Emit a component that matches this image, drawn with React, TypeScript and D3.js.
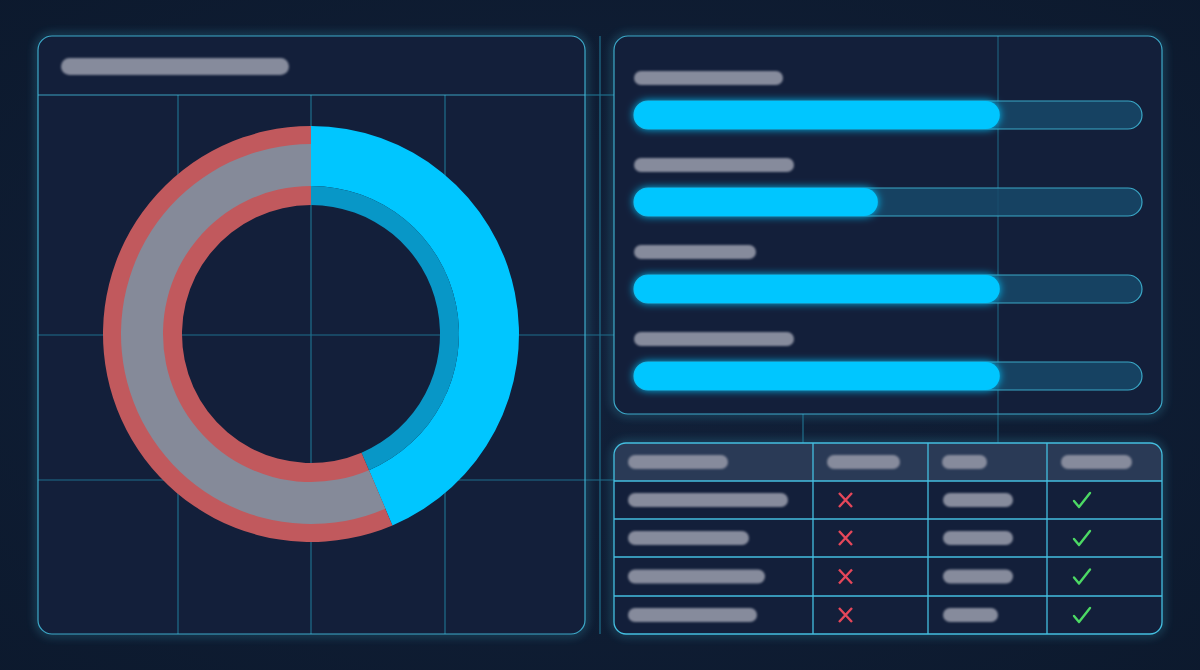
import React from "react";
import * as d3 from "d3";

const W = 1200;
const H = 670;

// Donut: share of the blue segment vs the grey/red segment
const donutLabels = ["Blue", "Grey"];
const donutValues = [43.6, 56.4];

// Progress bars (percent)
const barValues = [72, 48, 72, 72];
const barLabelWidths = [149, 160, 122, 160];

// Table placeholder widths and statuses
const headerPillWidths = [100, 73, 45, 71];
const col1PillWidths = [160, 121, 137, 129];
const col3PillWidths = [70, 70, 70, 55];
const col2Status = [false, false, false, false];
const col4Status = [true, true, true, true];

const PANEL = "#131f3a";
const BORDER = "#44bfe0";
const GRID = "#1f6f8c";
const PILL = "#868b9c";
const CYAN = "#00c6ff";

export default function App() {
  // Donut
  const cx = 311;
  const cy = 334;
  const pie = d3.pie<number>().sort(null).startAngle(0).endAngle(2 * Math.PI);
  const arcsData = pie(donutValues);
  const arcOuterBand = d3.arc<any>().innerRadius(148).outerRadius(208);
  const arcInnerBand = d3.arc<any>().innerRadius(129).outerRadius(148);
  const arcFull = d3.arc<any>().innerRadius(129).outerRadius(208);
  const arcGreyCore = d3.arc<any>().innerRadius(148).outerRadius(190);

  // Bars
  const bx = d3.scaleLinear().domain([0, 100]).range([634, 1142]);
  const barRowY = d3.scalePoint<number>().domain(d3.range(barValues.length)).range([101, 362]);

  // Table
  const colEdges = [614, 813, 928, 1047, 1162];
  const rowEdges = [443, 481, 519, 557, 596, 634];
  const rowCenters = d3.range(rowEdges.length - 1).map((i) => (rowEdges[i] + rowEdges[i + 1]) / 2);

  return (
    <svg width={W} height={H} style={{ position: "fixed", left: 0, top: 0, display: "block" }}>
      <defs>
        <filter id="blur" x="-20%" y="-50%" width="140%" height="200%">
          <feGaussianBlur stdDeviation="1.3" />
        </filter>
        <filter id="glow" x="-10%" y="-60%" width="120%" height="220%">
          <feGaussianBlur stdDeviation="4" result="b" />
          <feMerge>
            <feMergeNode in="b" />
            <feMergeNode in="SourceGraphic" />
          </feMerge>
        </filter>
        <filter id="panelGlow" x="-10%" y="-10%" width="120%" height="120%">
          <feGaussianBlur stdDeviation="5" />
        </filter>
        <radialGradient id="bgGrad" cx="50%" cy="50%" r="75%">
          <stop offset="0%" stopColor="#12213a" />
          <stop offset="100%" stopColor="#0c192d" />
        </radialGradient>
        <clipPath id="tableClip">
          <rect x={614} y={443} width={548} height={191} rx={12} />
        </clipPath>
      </defs>

      <rect x={0} y={0} width={W} height={H} fill="url(#bgGrad)" />

      {/* panel glows */}
      <g filter="url(#panelGlow)" opacity={0.55}>
        <rect x={38} y={36} width={547} height={598} rx={14} fill="none" stroke={BORDER} strokeWidth={3} />
        <rect x={614} y={36} width={548} height={378} rx={14} fill="none" stroke={BORDER} strokeWidth={3} />
        <rect x={614} y={443} width={548} height={191} rx={12} fill="none" stroke={BORDER} strokeWidth={3} />
      </g>

      {/* panels */}
      <rect x={38} y={36} width={547} height={598} rx={14} fill={PANEL} />
      <rect x={614} y={36} width={548} height={378} rx={14} fill={PANEL} />
      <rect x={614} y={443} width={548} height={191} rx={12} fill={PANEL} />

      {/* grid lines */}
      <g stroke={GRID} strokeWidth={1.2}>
        {[178, 311, 445].map((x) => (
          <line key={x} x1={x} x2={x} y1={95} y2={634} />
        ))}
        <line x1={38} x2={614} y1={335} y2={335} />
        <line x1={38} x2={614} y1={480} y2={480} />
        <line x1={600} x2={600} y1={36} y2={634} />
        <line x1={585} x2={614} y1={95} y2={95} />
        <line x1={998} x2={998} y1={36} y2={443} opacity={0.8} />
        <line x1={803} x2={803} y1={414} y2={443} />
      </g>
      <line x1={38} x2={585} y1={95} y2={95} stroke={BORDER} strokeWidth={1.2} opacity={0.8} />

      {/* title pill */}
      <rect x={61} y={58} width={228} height={17} rx={8.5} fill={PILL} filter="url(#blur)" />

      {/* donut */}
      <g transform={`translate(${cx},${cy})`}>
        {arcsData.map((d, i) =>
          i === 0 ? (
            <g key={donutLabels[i]}>
              <path d={arcOuterBand(d) as string} fill={CYAN} />
              <path d={arcInnerBand(d) as string} fill="#0897c7" />
            </g>
          ) : (
            <g key={donutLabels[i]}>
              <path d={arcFull(d) as string} fill="#c1595d" />
              <path d={arcGreyCore(d) as string} fill="#858a99" />
            </g>
          )
        )}
      </g>

      {/* bars */}
      {barValues.map((v, i) => {
        const y = barRowY(i) as number;
        return (
          <g key={i}>
            <rect x={634} y={y - 30} width={barLabelWidths[i]} height={14} rx={7} fill={PILL} filter="url(#blur)" />
            <rect x={bx(0)} y={y} width={bx(100) - bx(0)} height={28} rx={14} fill="#17496a" fillOpacity={0.85} stroke="#3aa7c6" strokeWidth={1.2} />
            <rect x={bx(0)} y={y} width={bx(v) - bx(0)} height={28} rx={14} fill={CYAN} filter="url(#glow)" />
          </g>
        );
      })}

      {/* table */}
      <g clipPath="url(#tableClip)">
        <rect x={614} y={443} width={548} height={38} fill="#2a3a56" />
      </g>
      <g stroke={BORDER} strokeWidth={1.3}>
        {colEdges.slice(1, -1).map((x) => (
          <line key={x} x1={x} x2={x} y1={443} y2={634} />
        ))}
        {rowEdges.slice(1, -1).map((y) => (
          <line key={y} x1={614} x2={1162} y1={y} y2={y} />
        ))}
      </g>
      <rect x={614} y={443} width={548} height={191} rx={12} fill="none" stroke={BORDER} strokeWidth={1.3} />
      <rect x={614} y={36} width={548} height={378} rx={14} fill="none" stroke={BORDER} strokeWidth={1.2} opacity={0.85} />
      <rect x={38} y={36} width={547} height={598} rx={14} fill="none" stroke={BORDER} strokeWidth={1.2} opacity={0.85} />

      {/* header pills */}
      {headerPillWidths.map((w, j) => (
        <rect key={j} x={colEdges[j] + 14} y={rowCenters[0] - 7} width={w} height={14} rx={7} fill={PILL} filter="url(#blur)" />
      ))}
      {/* row contents */}
      {col1PillWidths.map((w, i) => {
        const y = rowCenters[i + 1];
        return (
          <g key={i}>
            <rect x={628} y={y - 7} width={w} height={14} rx={7} fill={PILL} filter="url(#blur)" />
            <rect x={943} y={y - 7} width={col3PillWidths[i]} height={14} rx={7} fill={PILL} filter="url(#blur)" />
            {col2Status[i] ? (
              <path d={`M${840},${y} l4,5 l9,-11`} stroke="#4cd964" strokeWidth={2.4} fill="none" />
            ) : (
              <path d={`M${839},${y - 7} l13,14 M${852},${y - 7} l-13,14`} stroke="#e5475a" strokeWidth={2.4} fill="none" />
            )}
            {col4Status[i] ? (
              <path d={`M${1074},${y + 1} l5,6 l11,-14`} stroke="#4cd964" strokeWidth={2.4} fill="none" strokeLinecap="round" strokeLinejoin="round" />
            ) : (
              <path d={`M${1076},${y - 7} l13,14 M${1089},${y - 7} l-13,14`} stroke="#e5475a" strokeWidth={2.4} fill="none" />
            )}
          </g>
        );
      })}
    </svg>
  );
}
